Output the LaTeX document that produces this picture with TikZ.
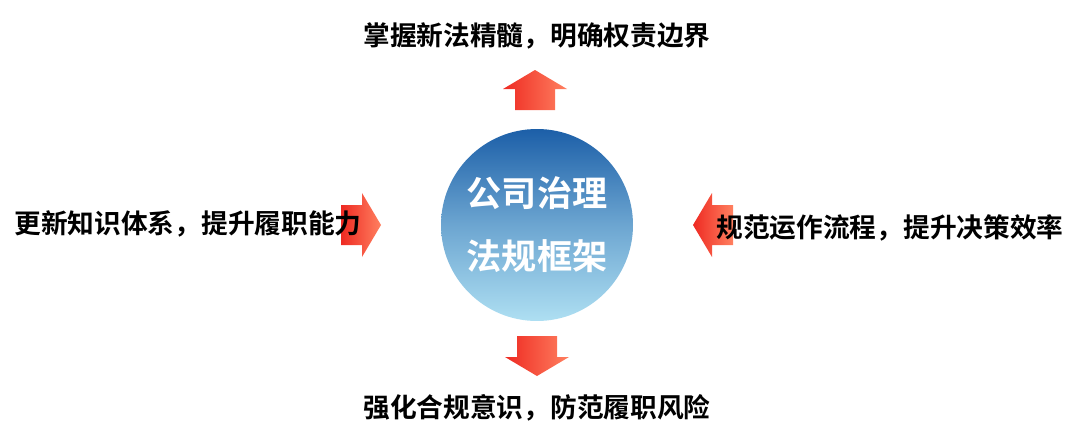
\documentclass[tikz,border=0pt]{standalone}
\usepackage{fontspec}
\newfontfamily\cjk{Noto Sans CJK SC}[BoldFont={Noto Sans CJK SC Bold}]
\definecolor{deepblue}{HTML}{1C5FA8}
\definecolor{paleblue}{HTML}{AEDFF2}
\definecolor{arrowred}{HTML}{EE2A22}
\definecolor{arrowpeach}{HTML}{FF8060}
\tikzset{
  goal/.style={font=\cjk\bfseries\fontsize{38}{44}\selectfont, text=black},
  blockarrow/.style={left color=arrowred, right color=arrowpeach, draw=none}
}
% block arrow pointing up, tip at the origin (y axis points down)
\newcommand\blockarrow{\shade[blockarrow] (0,0) -- (32,19) -- (20,19) -- (20,40)
  -- (-20,40) -- (-20,19) -- (-32,19) -- cycle;}
\begin{document}
\begin{tikzpicture}[x=0.05cm,y=-0.05cm]
\useasboundingbox (0,0) rectangle (1080,438);
%centre
\node[circle, minimum size=9.6cm, top color=deepblue, bottom color=paleblue,
  middle color=deepblue!45!paleblue, align=center, text=white,
  font=\cjk\bfseries\fontsize{50}{90}\selectfont] (core) at (537,225) {公司治理\\法规框架};
%arrows
\begin{scope}[shift={(535,70)}] \blockarrow \end{scope}
\begin{scope}[shift={(381,225)}, rotate=-90] \blockarrow \end{scope}
\begin{scope}[shift={(693,225)}, rotate=90] \blockarrow \end{scope}
\begin{scope}[shift={(537,376)}, rotate=180] \blockarrow \end{scope}
%labels
\node[goal] (tgoal) at (537,36) {掌握新法精髓，明确权责边界};
\node[goal] (lgoal) at (188,224) {更新知识体系，提升履职能力};
\node[goal] (rgoal) at (890,228) {规范运作流程，提升决策效率};
\node[goal] (bgoal) at (537,408) {强化合规意识，防范履职风险};
\end{tikzpicture}
\end{document}
